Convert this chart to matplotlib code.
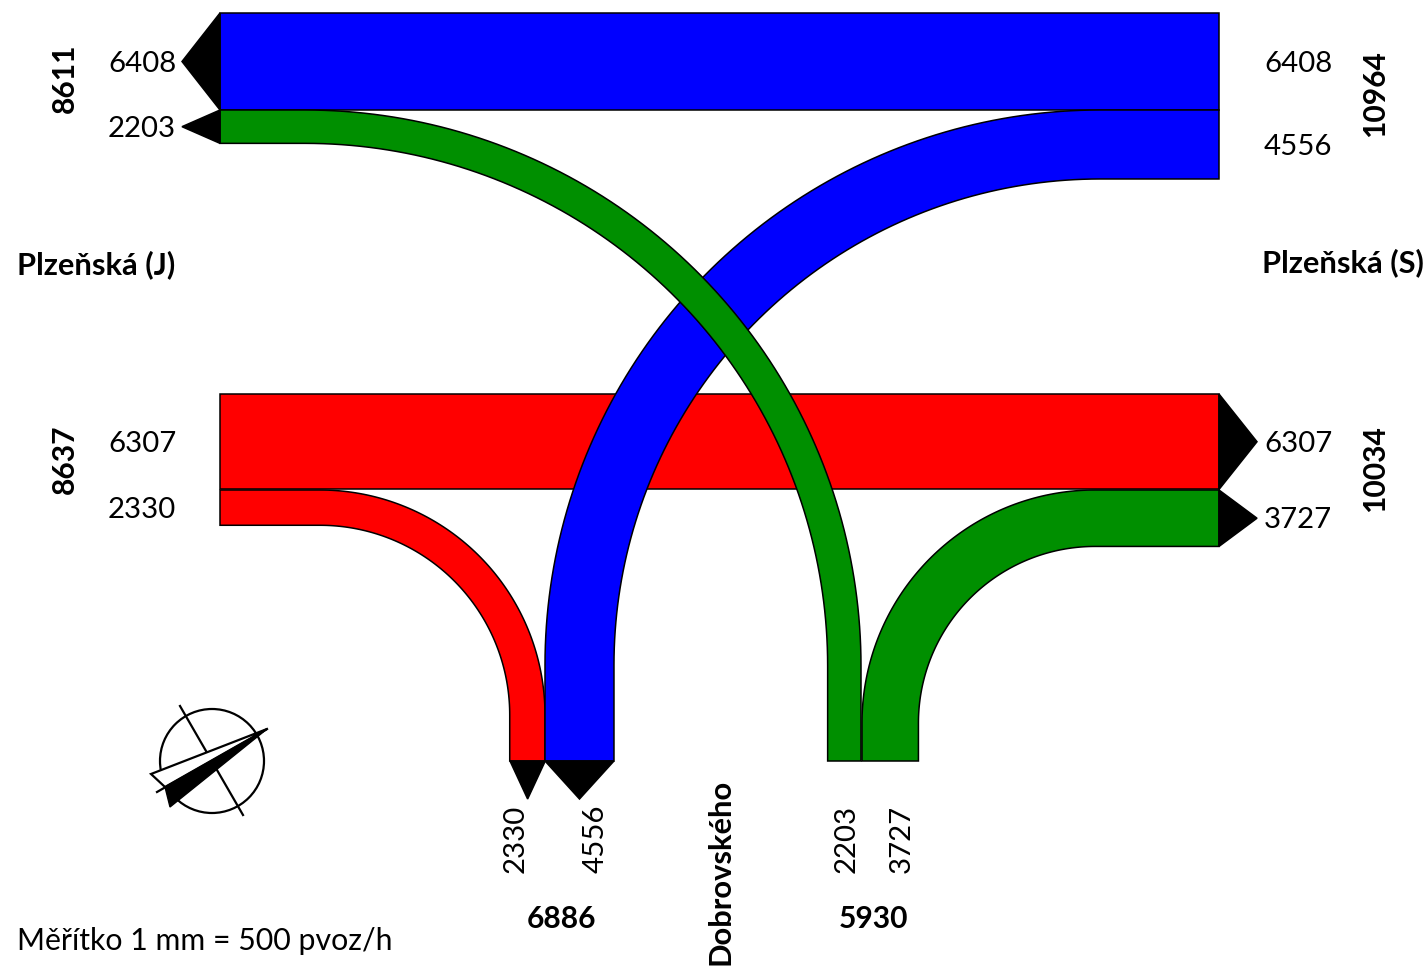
import numpy as np
import matplotlib
matplotlib.use('Agg')
import matplotlib.pyplot as plt
from matplotlib.patches import Polygon, Circle

plt.rcParams['font.family'] = ['Lato', 'DejaVu Sans']

# intensities, vehicles per hour
j_out = [6408, 2203]
j_in = [6307, 2330]
j_sums = [8611, 8637]
s_out = [6408, 4556]
s_in = [6307, 3727]
s_sums = [10964, 10034]
d_west = [2330, 4556]
d_east = [2203, 3727]
d_sums = [6886, 5930]
arm_names = ['Plzeňská (J)', 'Plzeňská (S)', 'Dobrovského']
scale_text = 'Měřítko 1 mm = 500 pvoz/h'

BLUE = '#0000ff'
RED = '#ff0000'
GREEN = '#008f00'
PX = 0.01514   # pixels per vehicle
LEFT = 220
RIGHT = 1219
BOTTOM = 761
ARROW = 38
FS = 21.2
FS_BOLD = 21.6
FS_NAME = 22.2

fig = plt.figure(figsize=(14.27, 9.69), dpi=100)
ax = fig.add_axes([0, 0, 1, 1])
ax.set_xlim(0, 1427)
ax.set_ylim(969, 0)
ax.axis('off')


def shape(pts, color, z):
	ax.add_patch(Polygon(pts, closed=True, facecolor=color, edgecolor='black', lw=1.1, zorder=z, joinstyle='miter'))


# straight band, y0 is the top edge
def straight(val, y0, color, z):
	h = val * PX
	shape([(LEFT, y0), (RIGHT, y0), (RIGHT, y0 + h), (LEFT, y0 + h)], color, z)


# turning band from a horizontal arm into the bottom arm
# xh is the end of the arm (LEFT or RIGHT), xc is the centre of the arc
def turn(val, y0, xh, x_outer, xc, color, z):
	w = val * PX
	side = 1 if x_outer > xc else -1
	r = abs(x_outer - xc)
	yc = y0 + r
	t = np.linspace(0, np.pi / 2, 90)
	outer = [(xc + side * r * np.sin(a), yc - r * np.cos(a)) for a in t]
	inner = [(xc + side * (r - w) * np.sin(a), yc - (r - w) * np.cos(a)) for a in t]
	pts = [(xh, y0)] + outer + [(x_outer, BOTTOM), (x_outer - side * w, BOTTOM)] + inner[::-1] + [(xh, y0 + w)]
	shape(pts, color, z)


def arrow_h(x, val, y0, direction):
	h = val * PX
	shape([(x, y0), (x + direction * ARROW, y0 + h / 2), (x, y0 + h)], 'black', 8)


def arrow_v(val, x0):
	w = val * PX
	shape([(x0, BOTTOM), (x0 + w / 2, BOTTOM + ARROW), (x0 + w, BOTTOM)], 'black', 8)


straight(j_in[0], 394, RED, 2)
straight(s_out[0], 13, BLUE, 2)
turn(j_in[1], 490, LEFT, 545, 320, RED, 3)
turn(s_in[1], 490, RIGHT, 862, 1095, GREEN, 3)
turn(s_out[1], 110, RIGHT, 545, 1100, BLUE, 4)
turn(j_out[1], 110, LEFT, 861, 305, GREEN, 5)

arrow_h(LEFT, j_out[0], 13, -1)
arrow_h(LEFT, j_out[1], 110, -1)
arrow_h(RIGHT, s_in[0], 394, 1)
arrow_h(RIGHT, s_in[1], 490, 1)
arrow_v(d_west[0], 510)
arrow_v(d_west[1], 545)


def label(x, y, txt, rot=0, bold=False, size=None):
	if size is None:
		size = FS_BOLD if bold else FS
	ax.text(x, y, str(txt), fontsize=size, rotation=rot, ha='center', va='center',
		fontweight='bold' if bold else 'normal', color='black', zorder=10)


label(142, 64, j_out[0])
label(142, 129, j_out[1])
label(142, 444, j_in[0])
label(142, 510, j_in[1])
label(65, 78, j_sums[0], 90, True)
label(65, 459, j_sums[1], 90, True)

label(1298, 64, s_out[0])
label(1298, 147, s_out[1])
label(1298, 444, s_in[0])
label(1298, 520, s_in[1])
label(1375, 94, s_sums[0], 90, True)
label(1375, 469, s_sums[1], 90, True)

label(516, 839, d_west[0], 90)
label(596, 839, d_west[1], 90)
label(847, 839, d_east[0], 90)
label(902, 839, d_east[1], 90)
label(561, 919, d_sums[0], 0, True)
label(873, 919, d_sums[1], 0, True)

label(96, 265, arm_names[0], 0, True, FS_NAME)
label(1343, 263, arm_names[1], 0, True, FS_NAME)
label(720, 872, arm_names[2], 90, True, FS_NAME)
ax.text(17, 941, scale_text, fontsize=21.8, ha='left', va='center', zorder=10)

# north sign
ax.add_patch(Circle((212, 761), 52, facecolor='white', edgecolor='black', lw=1.6, zorder=2))
ax.plot([180, 243], [706, 815], color='black', lw=1.6, zorder=3)
ax.plot([157, 267], [792, 729], color='black', lw=1.6, zorder=3)
ax.add_patch(Polygon([(267, 729), (151, 774), (165, 787)], closed=True, facecolor='white', edgecolor='black', lw=1.6, zorder=4))
ax.add_patch(Polygon([(267, 729), (165, 787), (170, 807)], closed=True, facecolor='black', edgecolor='black', lw=1, zorder=4))

fig.savefig('out.png', dpi=100)
